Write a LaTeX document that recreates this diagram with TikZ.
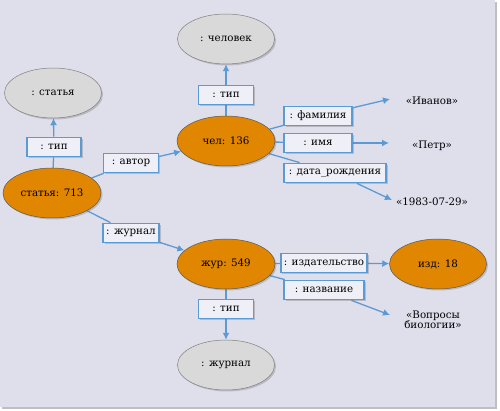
\documentclass[tikz,border=0pt]{standalone}
\usepackage{fontspec}
\setmainfont{DejaVu Serif}
\usetikzlibrary{shapes.geometric,shadows,arrows.meta,backgrounds}
\definecolor{bgc}{HTML}{DFDEEB}
\definecolor{orng}{HTML}{E08600}
\definecolor{gryf}{HTML}{D9D9D9}
\definecolor{edgeblue}{HTML}{5B9BD5}
\definecolor{boxf}{HTML}{EFEFF7}
\begin{document}
\begin{tikzpicture}[x=1pt,y=-1pt,
  font=\fontsize{10.3}{12}\selectfont,
  shad/.style={drop shadow={shadow xshift=1.5pt,shadow yshift=-1.5pt,opacity=0.3,fill=black!60}},
  res/.style={ellipse,draw=black!65,line width=0.5pt,fill=orng,minimum width=98pt,minimum height=50pt,inner sep=0pt,shad},
  cls/.style={ellipse,draw=black!50,line width=0.5pt,fill=gryf,minimum width=97pt,minimum height=50pt,inner sep=0pt,shad},
  lbl/.style={draw=edgeblue,line width=1.8pt,fill=boxf,minimum height=19pt,inner xsep=3pt,inner ysep=0pt,shad},
  lit/.style={align=center,inner sep=1pt},
  edge/.style={draw=edgeblue,line width=1.3pt},
  arr/.style={edge,-{Latex[length=7pt,width=7pt]}}
]
\useasboundingbox (0,0) rectangle (500,411);
% nodes
\node[cls] (clsA) at (53,93) {: статья};
\node[lbl,minimum width=54pt] (tip1) at (54,147) {: тип};
\node[res] (s713) at (52,193) {статья: 713};
\node[lbl,minimum width=55pt] (avtor) at (131,163) {: автор};
\node[res] (c136) at (226,141) {чел: 136};
\node[lbl,minimum width=55pt] (tip2) at (226,95) {: тип};
\node[cls] (chel) at (226,39) {: человек};
\node[lbl,minimum width=68pt] (fam) at (318,116) {: фамилия};
\node[lbl,minimum width=68pt] (imya) at (318,143) {: имя};
\node[lbl,minimum width=102pt] (data) at (335,173) {: дата\_рождения};
\node[lit] (ivanov) at (432,101) {«Иванов»};
\node[lit] (petr) at (432,146) {«Петр»};
\node[lit] (date) at (432,202) {«1983-07-29»};
\node[lbl,minimum width=56pt] (zhurlbl) at (131,233) {: журнал};
\node[res] (z549) at (226,264) {жур: 549};
\node[lbl,minimum width=55pt] (tip3) at (226,309) {: тип};
\node[cls] (zhurcls) at (226,365) {: журнал};
\node[lbl,minimum width=80pt] (izdat) at (324,263) {: издательство};
\node[lbl,minimum width=80pt] (nazv) at (324,290) {: название};
\node[res,minimum width=97pt] (i18) at (438,264) {изд: 18};
\node[lit] (vopr) at (433,320) {«Вопросы\\[-2pt]биологии»};
\coordinate (ivanovend) at (390,99);
\coordinate (petrend) at (389,143);
\coordinate (dateend) at (392,200);
\coordinate (nazvend) at (390,315);
\begin{scope}[on background layer]
  \fill[black!25] (2,2) rectangle (497,409);
  \fill[bgc] (0,0) rectangle (495,407);
  \draw[edge] (s713) -- (tip1);
  \draw[arr] (tip1) -- (clsA);
  \draw[edge] (s713) -- (avtor);
  \draw[arr] (avtor) -- (c136);
  \draw[edge] (c136) -- (tip2);
  \draw[arr] (tip2) -- (chel);
  \draw[edge] (c136) -- (fam);
  \draw[arr] (fam) -- (ivanovend);
  \draw[edge] (c136) -- (imya);
  \draw[arr] (imya) -- (petrend);
  \draw[edge] (c136) -- (data);
  \draw[arr] (data) -- (dateend);
  \draw[edge] (s713) -- (zhurlbl);
  \draw[arr] (zhurlbl) -- (z549);
  \draw[edge] (z549) -- (tip3);
  \draw[arr] (tip3) -- (zhurcls);
  \draw[edge] (z549) -- (izdat);
  \draw[arr] (izdat) -- (i18);
  \draw[edge] (z549) -- (nazv);
  \draw[arr] (nazv) -- (nazvend);
\end{scope}
\end{tikzpicture}
\end{document}
